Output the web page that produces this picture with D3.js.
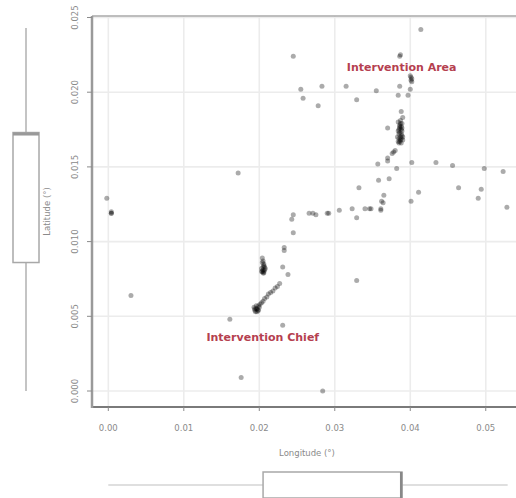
<!DOCTYPE html>
<html>
<head>
<meta charset="utf-8">
<script src="https://cdn.jsdelivr.net/npm/d3@7"></script>
<style>
  body { margin: 0; background: #fff; }
  svg text { font-family: "DejaVu Sans", sans-serif; }
  .tick-label { fill: #8a8a8a; font-size: 8.5px; }
  .axis-title { fill: #8a8a8a; font-size: 8.5px; }
  .note { fill: #b5404f; font-size: 11px; font-weight: bold; }
</style>
</head>
<body>
<div id="chart"></div>
<script>
// longitude / latitude of each observation (degrees)
const lon = [
  -0.0002, 0.0004, 0.0004, 0.0004, 0.0030, 0.0172, 0.0161, 0.0176, 0.0284, 0.0231,
  0.0194, 0.0196, 0.0193, 0.0198, 0.0199, 0.0201, 0.0197, 0.0203,
  0.0195, 0.0197, 0.0200, 0.0196, 0.0199, 0.0194,
  0.0205, 0.0207, 0.0210, 0.0212, 0.0215, 0.0218, 0.0221, 0.0224, 0.0227,
  0.0204, 0.0205, 0.0206, 0.0205, 0.0203, 0.0207, 0.0206, 0.0205, 0.0208, 0.0203,
  0.0204, 0.0206, 0.0205, 0.0207, 0.0204, 0.0206,
  0.0233, 0.0233, 0.0231, 0.0238, 0.0245, 0.0245, 0.0243,
  0.0266, 0.0271, 0.0275, 0.0290, 0.0292, 0.0306, 0.0323, 0.0340, 0.0346, 0.0348,
  0.0361, 0.0361, 0.0329, 0.0329,
  0.0362, 0.0364, 0.0365, 0.0358, 0.0372, 0.0332, 0.0401, 0.0411,
  0.0464, 0.0494, 0.0490, 0.0528,
  0.0357, 0.0370, 0.0382, 0.0402, 0.0434, 0.0456, 0.0498, 0.0523,
  0.0376, 0.0378, 0.0380, 0.0370, 0.0370,
  0.0388, 0.0390, 0.0387, 0.0389, 0.0386, 0.0388, 0.0386, 0.0389, 0.0385, 0.0387,
  0.0384, 0.0388, 0.0386, 0.0388, 0.0390, 0.0385,
  0.0384, 0.0386, 0.0389, 0.0385, 0.0387, 0.0390, 0.0383, 0.0386, 0.0388, 0.0384,
  0.0387, 0.0389, 0.0385, 0.0388,
  0.0401, 0.0401, 0.0402, 0.0400, 0.0402, 0.0386, 0.0387, 0.0414,
  0.0245, 0.0255, 0.0258, 0.0283, 0.0278, 0.0315, 0.0329, 0.0355, 0.0386, 0.0384,
  0.0397, 0.0400
];
const lat = [
  0.0129, 0.0119, 0.0119, 0.0120, 0.0064, 0.0146, 0.0048, 0.0009, 0.0000, 0.0044,
  0.0054, 0.0055, 0.0056, 0.0054, 0.0057, 0.0058, 0.0053, 0.0059,
  0.0053, 0.0055, 0.0056, 0.0057, 0.0054, 0.0055,
  0.0060, 0.0062, 0.0063, 0.0065, 0.0066, 0.0067, 0.0069, 0.0070, 0.0072,
  0.0089, 0.0087, 0.0085, 0.0083, 0.0082, 0.0081, 0.0080, 0.0079, 0.0082, 0.0080,
  0.0086, 0.0084, 0.0081, 0.0083, 0.0080, 0.0079,
  0.0094, 0.0096, 0.0083, 0.0078, 0.0106, 0.0118, 0.0115,
  0.0119, 0.0119, 0.0118, 0.0119, 0.0119, 0.0121, 0.0122, 0.0122, 0.0122, 0.0122,
  0.0122, 0.0121, 0.0116, 0.0074,
  0.0127, 0.0126, 0.0131, 0.0141, 0.0142, 0.0136, 0.0127, 0.0133,
  0.0136, 0.0135, 0.0129, 0.0123,
  0.0152, 0.0154, 0.0149, 0.0153, 0.0153, 0.0151, 0.0149, 0.0147,
  0.0159, 0.0160, 0.0161, 0.0156, 0.0176,
  0.0187, 0.0183, 0.0181, 0.0179, 0.0177, 0.0175, 0.0173, 0.0171, 0.0169, 0.0168,
  0.0167, 0.0166, 0.0178, 0.0172, 0.0170, 0.0175,
  0.0180, 0.0176, 0.0174, 0.0172, 0.0170, 0.0168, 0.0170, 0.0167, 0.0177, 0.0174,
  0.0179, 0.0176, 0.0166, 0.0169,
  0.0208, 0.0210, 0.0209, 0.0211, 0.0207, 0.0224, 0.0225, 0.0242,
  0.0224, 0.0202, 0.0196, 0.0204, 0.0191, 0.0204, 0.0195, 0.0201, 0.0204, 0.0198,
  0.0198, 0.0202
];

// marginal boxplots: [min, q1, median, q3, max]
const lonBox = [0.0000, 0.0205, 0.0388, 0.0389, 0.0529];
const latBox = [0.0000, 0.0086, 0.0172, 0.0173, 0.0243];

const xTicks = [0.00, 0.01, 0.02, 0.03, 0.04, 0.05];
const yTicks = [0.000, 0.005, 0.010, 0.015, 0.020, 0.025];

const notes = [
  { label: "Intervention Area", lon: 0.0316, lat: 0.0217 },
  { label: "Intervention Chief", lon: 0.0130, lat: 0.0036 }
];

const width = 516, height = 498;
const plot = { left: 92, right: 522, top: 16, bottom: 407 };

const svg = d3.select("#chart").append("svg")
  .attr("width", width)
  .attr("height", height);

const x = d3.scaleLinear().domain([-0.00216, 0.0548]).range([plot.left, plot.right]);
const y = d3.scaleLinear().domain([-0.00107, 0.0251]).range([plot.bottom, plot.top]);

// grid
svg.append("g").selectAll("line")
  .data(xTicks)
  .join("line")
  .attr("x1", d => x(d)).attr("x2", d => x(d))
  .attr("y1", plot.top).attr("y2", plot.bottom)
  .attr("stroke", "#ececec").attr("stroke-width", 1.6);

svg.append("g").selectAll("line")
  .data(yTicks)
  .join("line")
  .attr("x1", plot.left).attr("x2", plot.right)
  .attr("y1", d => y(d)).attr("y2", d => y(d))
  .attr("stroke", "#ececec").attr("stroke-width", 1.6);

// frame
svg.append("line")
  .attr("x1", plot.left).attr("x2", plot.right)
  .attr("y1", plot.top).attr("y2", plot.top)
  .attr("stroke", "#a8a8a8").attr("stroke-width", 1.5);

svg.append("line")
  .attr("x1", plot.left).attr("x2", plot.right)
  .attr("y1", plot.bottom).attr("y2", plot.bottom)
  .attr("stroke", "#7a7a7a").attr("stroke-width", 2);

svg.append("line")
  .attr("x1", plot.left).attr("x2", plot.left)
  .attr("y1", plot.top).attr("y2", plot.bottom + 1)
  .attr("stroke", "#9a9a9a").attr("stroke-width", 2.5);

// ticks
svg.append("g").selectAll("line")
  .data(xTicks)
  .join("line")
  .attr("x1", d => x(d)).attr("x2", d => x(d))
  .attr("y1", plot.bottom).attr("y2", plot.bottom + 4)
  .attr("stroke", "#8a8a8a");

svg.append("g").selectAll("line")
  .data(yTicks)
  .join("line")
  .attr("x1", plot.left - 5).attr("x2", plot.left)
  .attr("y1", d => y(d)).attr("y2", d => y(d))
  .attr("stroke", "#8a8a8a");

svg.append("g").selectAll("text")
  .data(xTicks)
  .join("text")
  .attr("class", "tick-label")
  .attr("x", d => x(d))
  .attr("y", 431)
  .attr("text-anchor", "middle")
  .text(d3.format(".2f"));

svg.append("g").selectAll("text")
  .data(yTicks)
  .join("text")
  .attr("class", "tick-label")
  .attr("transform", d => `translate(78,${y(d)}) rotate(-90)`)
  .attr("text-anchor", "middle")
  .text(d3.format(".3f"));

svg.append("text")
  .attr("class", "axis-title")
  .attr("x", (plot.left + plot.right) / 2)
  .attr("y", 456)
  .attr("text-anchor", "middle")
  .text("Longitude (°)");

svg.append("text")
  .attr("class", "axis-title")
  .attr("transform", `translate(50,${(plot.top + plot.bottom) / 2}) rotate(-90)`)
  .attr("text-anchor", "middle")
  .text("Latitude (°)");

// points
const points = d3.zip(lon, lat);
svg.append("g").selectAll("circle")
  .data(points)
  .join("circle")
  .attr("cx", d => x(d[0]))
  .attr("cy", d => y(d[1]))
  .attr("r", 2.5)
  .attr("fill", "#000")
  .attr("fill-opacity", 0.33);

// annotations
svg.append("g").selectAll("text")
  .data(notes)
  .join("text")
  .attr("class", "note")
  .attr("x", d => x(d.lon))
  .attr("y", d => y(d.lat))
  .attr("dy", "0.35em")
  .text(d => d.label);

// left marginal boxplot (latitude)
const vb = svg.append("g");
const vx = 26, vw = 26;
vb.append("line")
  .attr("x1", vx).attr("x2", vx)
  .attr("y1", y(latBox[0])).attr("y2", y(latBox[4]))
  .attr("stroke", "#b0b0b0").attr("stroke-width", 1.5);
vb.append("rect")
  .attr("x", vx - vw / 2).attr("width", vw)
  .attr("y", y(latBox[3])).attr("height", y(latBox[1]) - y(latBox[3]))
  .attr("fill", "#fff").attr("stroke", "#a8a8a8").attr("stroke-width", 1.5);
vb.append("line")
  .attr("x1", vx - vw / 2).attr("x2", vx + vw / 2)
  .attr("y1", y(latBox[2])).attr("y2", y(latBox[2]))
  .attr("stroke", "#999").attr("stroke-width", 3);

// bottom marginal boxplot (longitude)
const hb = svg.append("g");
const hy = 485, hh = 26;
hb.append("line")
  .attr("x1", x(lonBox[0])).attr("x2", x(lonBox[4]))
  .attr("y1", hy).attr("y2", hy)
  .attr("stroke", "#d4d4d4").attr("stroke-width", 1.5);
hb.append("rect")
  .attr("x", x(lonBox[1])).attr("width", x(lonBox[3]) - x(lonBox[1]))
  .attr("y", hy - hh / 2).attr("height", hh)
  .attr("fill", "#fff").attr("stroke", "#a8a8a8").attr("stroke-width", 1.5);
hb.append("line")
  .attr("x1", x(lonBox[2])).attr("x2", x(lonBox[2]))
  .attr("y1", hy - hh / 2).attr("y2", hy + hh / 2)
  .attr("stroke", "#888").attr("stroke-width", 2.5);
</script>
</body>
</html>
